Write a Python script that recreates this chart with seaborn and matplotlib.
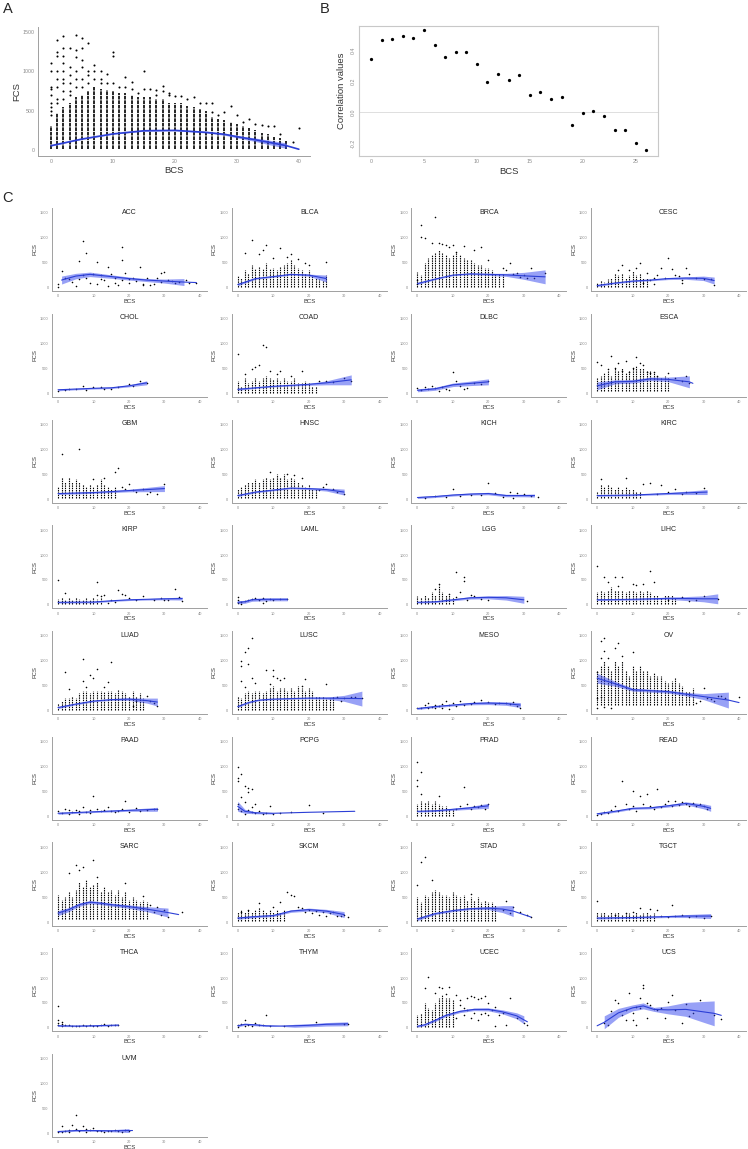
import numpy as np
import pandas as pd
import matplotlib
matplotlib.use("Agg")
import matplotlib.pyplot as plt
import seaborn as sns

nan = np.nan

# ── Panel A: all samples ──────────────────────────────────────
# top of the dense column of points at each BCS (0, 1, 2, ...)
A_cols = [300, 465, 550, 600, 680, 700, 750, 800, 780, 760, 750, 720, 720, 700,
          680, 680, 680, 650, 650, 600, 600, 600, 560, 550, 520, 500, 420, 400,
          380, 350, 330, 300, 280, 250, 220, 200, 170, 150, 120]
A_pts = [(0, 1100), (0, 1000), (0, 800), (0, 780), (0, 700), (0, 600), (0, 550), (0, 500), (0, 450),
         (1, 1400), (1, 1250), (1, 1200), (1, 1000), (1, 900), (1, 800), (1, 650), (1, 600),
         (2, 1450), (2, 1300), (2, 1200), (2, 1100), (2, 1000), (2, 900), (2, 850), (2, 750), (2, 650),
         (3, 1300), (3, 1050), (3, 950), (3, 850), (3, 750), (3, 700),
         (4, 1460), (4, 1270), (4, 1180), (4, 1000), (4, 900), (4, 800),
         (5, 1430), (5, 1300), (5, 1150), (5, 1050), (5, 900), (5, 800),
         (6, 1360), (6, 1000), (6, 950), (6, 850), (7, 1080), (7, 1000), (7, 900),
         (8, 1000), (8, 900), (8, 850), (9, 970), (9, 850), (10, 1250), (10, 1200), (10, 850),
         (11, 800), (12, 930), (12, 800), (13, 870), (13, 780), (14, 720), (15, 1000), (15, 780),
         (16, 770), (17, 760), (17, 700), (18, 820), (18, 750), (19, 720), (19, 700), (20, 690),
         (21, 690), (22, 650), (23, 680), (24, 600), (25, 600), (26, 600), (26, 480), (27, 450),
         (28, 480), (29, 560), (30, 440), (31, 350), (32, 400), (33, 330), (34, 320), (35, 300),
         (36, 300), (37, 200), (39, 100), (40, 280)]
A_fit = [(0, 55, 5), (5, 140, 5), (10, 205, 5), (15, 245, 6), (20, 250, 6), (25, 225, 8),
         (28, 200, 12), (30, 170, 15), (33, 130, 22), (35, 100, 28), (38, 55, 35), (40, 10, nan)]

# ── Panel B: correlation per BCS ──────────────────────────────
B_bcs = [0, 1, 2, 3, 4, 5, 6, 7, 8, 9, 10, 11, 12, 13, 14, 15, 16, 17, 18, 19, 20, 21, 22, 23, 24, 25, 26]
B_corr = [0.346, 0.466, 0.475, 0.497, 0.482, 0.535, 0.437, 0.359, 0.392, 0.392, 0.316, 0.196,
          0.247, 0.208, 0.239, 0.112, 0.131, 0.084, 0.099, -0.080, -0.006, 0.006, -0.024,
          -0.112, -0.118, -0.200, -0.247]

# ── Panel C: per cancer type ──────────────────────────────────
# fit = (BCS, smoothed FCS, CI half width); cols = dense column tops by BCS; pts = (BCS, FCS)
ACC_fit = [(1, 150, 80), (5, 230, 55), (9, 265, 45), (15, 220, 35), (20, 180, 30), (25, 150, 30),
           (30, 130, 40), (35.5, 110, 70), (39, 100, nan)]
ACC_cols = []
ACC_pts = [(7, 930), (8, 700), (18, 820), (18, 560), (6, 530), (11, 520), (14, 420), (23, 420), (29, 300),
           (30, 320), (1, 340), (2, 200), (4, 120), (5, 30), (7, 260), (8, 200), (10, 280), (12, 250),
           (13, 150), (15, 270), (16, 100), (17, 50), (19, 290), (20, 170), (21, 200), (22, 130), (24, 80),
           (25, 200), (26, 50), (27, 80), (28, 200), (29, 120), (31, 150), (33, 100), (34, 120), (36, 160),
           (37, 100), (39, 100), (0, 80), (0, 20), (3, 180), (6, 180), (9, 100), (11, 80), (14, 30),
           (20, 100), (24, 60), (32, 130), (18, 160), (16, 200), (12, 170)]

BLCA_fit = [(0, 60, 25), (5, 180, 15), (10, 220, 15), (15, 265, 15), (20, 250, 20), (25, 180, 70)]
BLCA_cols = [230, 200, 350, 300, 450, 380, 420, 380, 500, 380, 400, 350, 420, 450, 500, 550, 450,
             400, 350, 300, 350, 250, 200, 180, 150, 250]
BLCA_pts = [(4, 950), (8, 860), (2, 700), (6, 680), (12, 800), (10, 600), (15, 680), (19, 500),
            (25, 520), (20, 450), (14, 620), (7, 750), (17, 580)]

BRCA_fit = [(0, 80, 20), (5, 170, 12), (10, 250, 12), (15, 275, 15), (20, 265, 20), (25, 255, 30),
            (30, 235, 70), (36, 215, 140)]
BRCA_cols = [320, 250, 500, 600, 650, 700, 750, 700, 650, 600, 650, 700, 650, 600, 550, 550, 500,
             450, 450, 400, 400, 350, 300, 300, 280]
BRCA_pts = [(5, 1420), (1, 1250), (1, 1020), (2, 1000), (4, 900), (6, 900), (7, 870), (8, 850),
            (9, 820), (10, 860), (13, 830), (18, 820), (16, 750), (11, 720), (20, 550), (24, 400),
            (26, 500), (28, 300), (30, 250), (32, 400), (33, 200), (36, 300), (29, 220), (31, 200),
            (0, 150), (0, 80), (25, 350), (27, 280)]

CESC_fit = [(0, 40, 20), (5, 90, 15), (10, 130, 15), (15, 150, 15), (20, 180, 20), (25, 190, 25),
            (30, 185, 45), (33, 140, 70)]
CESC_cols = [100, 150, 120, 180, 200, 300, 250, 300, 200, 250, 330, 250, 300, 200, 200]
CESC_pts = [(7, 460), (12, 500), (11, 400), (6, 350), (20, 600), (18, 400), (21, 380), (25, 400),
            (26, 280), (22, 250), (17, 250), (16, 200), (19, 200), (23, 230), (24, 150), (15, 150),
            (28, 200), (30, 180), (32, 180), (33, 60), (24, 100), (13, 100), (16, 80), (14, 300), (9, 350)]

CHOL_fit = [(0, 70, 20), (5, 85, 15), (10, 100, 15), (15, 110, 15), (20, 150, 20), (25, 210, 40)]
CHOL_cols = []
CHOL_pts = [(3, 80), (7, 150), (10, 120), (12, 130), (15, 80), (20, 180), (23, 250), (25, 200),
            (0, 50), (5, 90), (8, 60), (17, 120), (13, 90), (2, 60), (21, 140)]

COAD_fit = [(0, 80, 20), (5, 110, 12), (10, 140, 12), (15, 160, 15), (20, 180, 20), (25, 210, 40),
            (32, 270, 100)]
COAD_cols = [250, 150, 300, 200, 250, 300, 250, 300, 350, 300, 280, 300, 250, 300, 250, 250, 300,
             200, 200, 250, 200, 150, 150]
COAD_pts = [(0, 790), (7, 970), (8, 930), (5, 520), (4, 480), (6, 560), (9, 450), (12, 450), (18, 450),
            (11, 380), (15, 350), (23, 250), (25, 250), (27, 220), (30, 300), (32, 250), (2, 380)]

DLBC_fit = [(0, 60, 30), (5, 90, 30), (10, 170, 35), (15, 200, 45), (20, 230, 60)]
DLBC_cols = []
DLBC_pts = [(0, 100), (1, 60), (2, 120), (3, 80), (4, 150), (5, 100), (6, 50), (7, 130), (8, 90),
            (10, 420), (11, 250), (12, 150), (14, 110), (16, 200), (18, 180), (20, 240), (9, 60), (13, 80)]

ESCA_fit = [(0, 150, 80), (5, 230, 40), (10, 240, 35), (15, 290, 35), (20, 280, 45), (26, 230, 120),
            (27, 200, nan)]
ESCA_cols = [300, 350, 400, 450, 350, 500, 450, 500, 400, 450, 500, 550, 500, 500, 450, 450, 400,
             350, 300, 350, 300]
ESCA_pts = [(0, 620), (1, 560), (4, 740), (6, 610), (8, 650), (11, 720), (12, 600), (13, 560),
            (10, 500), (5, 500), (3, 480), (7, 450), (9, 420), (14, 420), (15, 400), (16, 420),
            (17, 350), (20, 400), (22, 300), (25, 350), (26, 200), (24, 250)]

GBM_fit = [(0, 110, 20), (10, 130, 15), (20, 170, 25), (30, 210, 60)]
GBM_cols = [250, 450, 350, 450, 350, 400, 350, 300, 250, 300, 250, 300, 400, 300, 250, 200, 250]
GBM_pts = [(1, 900), (6, 1000), (17, 620), (16, 550), (13, 420), (10, 400), (20, 300), (24, 200),
           (26, 150), (30, 300), (22, 150), (18, 250), (19, 200), (21, 180), (25, 100), (28, 100)]

HNSC_fit = [(0, 70, 20), (5, 140, 15), (10, 180, 15), (15, 220, 15), (20, 210, 20), (25, 190, 30),
            (30, 140, 60)]
HNSC_cols = [200, 250, 300, 350, 350, 400, 350, 400, 450, 400, 450, 500, 450, 500, 400, 450, 400,
             350, 300, 250, 300, 200, 200]
HNSC_pts = [(9, 540), (14, 500), (16, 480), (18, 420), (25, 300), (27, 200), (28, 150), (30, 100),
            (24, 250), (23, 180)]

KICH_fit = [(0, 30, 20), (5, 50, 20), (10, 80, 20), (15, 100, 20), (20, 110, 25), (25, 70, 25),
            (30, 70, 25), (33, 70, 30)]
KICH_cols = []
KICH_pts = [(10, 200), (20, 320), (26, 150), (28, 120), (5, 60), (15, 90), (22, 130), (30, 100),
            (32, 60), (18, 90), (12, 70), (24, 50), (34, 40), (8, 40), (2, 20), (27, 30)]

KIRC_fit = [(0, 70, 15), (10, 80, 15), (20, 110, 20), (31, 140, 50)]
KIRC_cols = [150, 300, 250, 300, 250, 200, 250, 200, 250, 200, 200, 150, 150]
KIRC_pts = [(1, 400), (8, 420), (13, 300), (15, 320), (18, 290), (22, 200), (25, 150), (28, 120),
            (30, 220), (20, 150), (17, 100), (24, 110)]

KIRP_fit = [(0, 50, 15), (10, 55, 15), (15, 80, 15), (20, 100, 15), (25, 110, 15), (30, 120, 20),
            (35, 125, 30)]
KIRP_cols = [120, 150, 100, 130, 100, 150, 120, 100, 130, 100, 150, 120, 130]
KIRP_pts = [(0, 500), (11, 450), (2, 230), (11, 200), (12, 180), (13, 200), (17, 300), (18, 220),
            (19, 200), (33, 320), (34, 160), (24, 170), (20, 130), (22, 100), (27, 100), (29, 130),
            (30, 100), (31, 100), (35, 80), (15, 100), (16, 60), (14, 30)]

LAML_fit = [(0, 50, 30), (2, 60, 30), (4, 100, 30), (8, 110, 30), (14, 110, 30)]
LAML_cols = []
LAML_pts = [(0, 160), (0, 100), (1, 60), (2, 80), (3, 100), (4, 120), (5, 130), (6, 100), (7, 140),
            (8, 80), (9, 120), (10, 100), (12, 110), (14, 120), (0, 30), (1, 20), (7, 30)]

LGG_fit = [(0, 50, 15), (5, 60, 15), (10, 100, 20), (15, 140, 25), (20, 150, 30), (25, 140, 45),
           (30, 100, 70)]
LGG_cols = [180, 150, 200, 150, 250, 200, 400, 250, 200, 200, 150]
LGG_pts = [(11, 650), (13, 560), (13, 480), (6, 420), (5, 320), (9, 220), (12, 250), (15, 200),
           (16, 180), (18, 120), (31, 80), (14, 100), (20, 100), (11, 150)]

LIHC_fit = [(0, 100, 15), (10, 110, 15), (20, 130, 20), (30, 120, 60), (34, 120, 100)]
LIHC_cols = [250, 300, 250, 300, 350, 300, 300, 300, 250, 300, 300, 250, 300, 250, 300, 250, 200,
             200, 150, 200, 200, 200, 150]
LIHC_pts = [(0, 780), (2, 560), (5, 550), (7, 550), (10, 420), (11, 400), (13, 420), (15, 680),
            (16, 450), (6, 380), (3, 450), (24, 150), (28, 100), (30, 180), (34, 120), (26, 80), (20, 100)]

LUAD_fit = [(0, 60, 20), (5, 130, 15), (10, 190, 15), (15, 220, 15), (20, 230, 25), (25, 200, 50),
            (28, 170, 80)]
LUAD_cols = [150, 200, 250, 250, 300, 250, 350, 400, 400, 350, 400, 400, 400, 380, 400, 400, 350,
             420, 400, 350, 300, 400, 300, 350, 250]
LUAD_pts = [(7, 1030), (2, 770), (11, 830), (15, 980), (9, 720), (10, 660), (7, 600), (14, 570),
            (3, 440), (8, 480), (13, 480), (25, 300), (26, 200), (27, 150), (28, 90), (21, 100), (22, 200)]

LUSC_fit = [(0, 80, 20), (3, 160, 15), (6, 210, 12), (10, 230, 12), (15, 240, 12), (20, 250, 15),
            (25, 250, 20), (30, 245, 60), (35, 240, 150)]
LUSC_cols = [300, 250, 350, 400, 350, 400, 400, 350, 400, 450, 500, 400, 450, 450, 400, 450, 400,
             500, 450, 400, 450, 400, 300, 300, 300, 250, 250, 300]
LUSC_pts = [(4, 1450), (3, 1260), (2, 1170), (1, 1000), (1, 900), (3, 930), (4, 650), (1, 600),
            (2, 480), (8, 810), (10, 820), (10, 700), (11, 650), (12, 620), (13, 660), (19, 630),
            (9, 540), (25, 530), (18, 500), (5, 560), (28, 280), (30, 250), (32, 270), (33, 280),
            (35, 250), (29, 200)]

MESO_fit = [(0, 40, 20), (5, 80, 20), (10, 110, 20), (15, 140, 25), (20, 150, 30), (25, 140, 35),
            (29, 110, 50)]
MESO_cols = []
MESO_pts = [(0, 50), (1, 60), (2, 120), (3, 150), (4, 80), (5, 120), (6, 100), (7, 130), (8, 200),
            (9, 110), (10, 150), (11, 100), (12, 200), (13, 120), (16, 180), (18, 210), (20, 170),
            (23, 150), (26, 130), (28, 100), (29, 60), (3, 50), (5, 60), (7, 60), (9, 40), (15, 130),
            (25, 150), (27, 180), (22, 140)]

OV_fit = [(0, 650, 100), (5, 540, 50), (10, 420, 30), (15, 400, 30), (20, 380, 30), (25, 330, 35),
          (30, 280, 60), (37, 210, 160), (40, 160, nan)]
OV_cols = [800, 900, 1000, 900, 800, 1000, 900, 1000, 800, 700, 900, 800, 900, 800, 800, 700, 750,
           700, 700, 600, 550, 600, 650, 550, 500, 400, 400, 450]
OV_pts = [(1, 1400), (2, 1450), (2, 1200), (6, 1350), (5, 1250), (10, 1180), (3, 1050), (7, 1100),
          (1, 1050), (0, 780), (0, 250), (0, 50), (1, 280), (4, 60), (2, 80), (30, 450), (31, 250),
          (32, 230), (34, 300), (35, 300), (40, 280), (29, 200), (28, 150), (33, 200), (36, 250)]

PAAD_fit = [(0, 60, 20), (10, 90, 15), (20, 120, 20), (28, 140, 40)]
PAAD_cols = []
PAAD_pts = [(0, 100), (2, 150), (3, 120), (4, 80), (5, 130), (6, 100), (7, 180), (8, 90), (9, 120),
            (10, 400), (11, 150), (12, 100), (13, 120), (14, 180), (15, 110), (17, 100), (19, 300),
            (18, 150), (20, 90), (22, 160), (25, 120), (27, 150), (28, 140), (1, 60), (3, 40),
            (6, 50), (9, 60), (16, 80), (23, 100)]

PCPG_fit = [(0, 200, 100), (2, 100, 40), (5, 70, 20), (10, 60, 15), (20, 80, nan), (33, 100, nan)]
PCPG_cols = []
PCPG_pts = [(0, 1000), (1, 860), (0, 780), (0, 700), (2, 600), (3, 560), (4, 550), (3, 480), (1, 380),
            (2, 280), (0, 250), (0, 150), (1, 100), (2, 50), (3, 120), (4, 80), (5, 60), (6, 100),
            (7, 50), (8, 70), (10, 40), (12, 60), (15, 80), (20, 220), (24, 60), (9, 200), (5, 250), (4, 180)]

PRAD_fit = [(0, 100, 15), (5, 110, 15), (10, 140, 20), (15, 170, 30), (20, 210, 50)]
PRAD_cols = [250, 300, 280, 300, 250, 300, 250, 200, 200, 150, 150]
PRAD_pts = [(0, 1100), (1, 900), (0, 730), (0, 600), (1, 450), (6, 400), (13, 580), (14, 250),
            (16, 200), (18, 230), (20, 250), (11, 150), (12, 200), (17, 180), (19, 140), (15, 150)]

READ_fit = [(0, 50, 20), (5, 100, 20), (10, 160, 20), (15, 170, 20), (20, 210, 25), (25, 260, 30),
            (30, 200, 50), (32, 160, 60)]
READ_cols = []
READ_pts = [(7, 700), (10, 500), (12, 400), (14, 450), (17, 550), (22, 300), (24, 280), (25, 250),
            (27, 270), (29, 250), (30, 200), (31, 150), (20, 300), (19, 250), (5, 200), (6, 100),
            (8, 250), (9, 150), (10, 200), (11, 100), (13, 250), (15, 200), (16, 150), (18, 180),
            (2, 80), (3, 60), (0, 20), (1, 40), (4, 120), (21, 200), (23, 230), (26, 200), (28, 200)]

SARC_fit = [(0, 180, 50), (3, 250, 40), (6, 350, 35), (9, 400, 30), (12, 380, 30), (15, 350, 30),
            (20, 310, 35), (25, 260, 50), (31, 190, 90), (34, 150, nan)]
SARC_cols = [550, 450, 500, 600, 500, 650, 800, 700, 850, 700, 750, 800, 600, 700, 600, 650, 550,
             650, 500, 600, 450, 500, 450, 400, 450, 400]
SARC_pts = [(5, 1150), (6, 1050), (7, 1100), (10, 1250), (3, 980), (19, 780), (11, 900), (24, 530),
            (26, 350), (28, 300), (30, 250), (35, 200), (27, 200), (29, 150), (31, 100)]

SKCM_fit = [(0, 80, 25), (5, 110, 20), (10, 130, 20), (15, 220, 25), (20, 250, 30), (25, 220, 35),
            (30, 150, 60)]
SKCM_cols = [200, 250, 200, 250, 200, 250, 300, 250, 200, 250, 200, 250, 200, 250]
SKCM_pts = [(14, 600), (15, 550), (16, 520), (12, 400), (6, 380), (10, 300), (17, 300), (18, 280),
            (20, 250), (22, 230), (24, 200), (26, 180), (28, 130), (30, 150), (31, 100), (1, 200),
            (3, 250), (19, 200), (21, 180), (23, 150), (25, 120), (27, 200), (29, 120)]

STAD_fit = [(0, 60, 30), (5, 170, 20), (10, 230, 20), (15, 270, 20), (20, 280, 30), (24, 260, 70),
            (27, 220, 110), (32, 100, nan)]
STAD_cols = [500, 400, 550, 500, 600, 650, 600, 550, 550, 500, 600, 550, 500, 550, 450, 500, 450,
             500, 400, 450, 400, 400, 350]
STAD_pts = [(1, 1210), (2, 1300), (4, 850), (0, 740), (15, 570), (25, 420), (27, 300), (29, 200),
            (31, 150), (32, 100), (24, 250), (26, 180)]

TGCT_fit = [(0, 80, 20), (10, 90, 15), (20, 110, 20), (25, 120, 30), (32, 120, 50)]
TGCT_cols = [200, 180, 200, 150, 200, 180, 200, 150, 200, 180, 150, 200, 150, 180, 200, 150, 180]
TGCT_pts = [(0, 420), (12, 280), (15, 270), (17, 250), (21, 350), (10, 200), (24, 150), (26, 100),
            (28, 120), (30, 80), (32, 120), (20, 100), (18, 120), (22, 130), (5, 150), (8, 180)]

THCA_fit = [(0, 40, 15), (5, 35, 12), (10, 40, 12), (17, 55, 15)]
THCA_cols = []
THCA_pts = [(0, 440), (0, 160), (1, 120), (1, 80), (2, 60), (3, 50), (5, 40), (7, 60), (9, 50),
            (11, 40), (13, 70), (15, 60), (17, 50), (4, 30), (6, 30), (8, 40), (10, 30), (12, 50),
            (14, 40), (16, 60), (0, 100), (0, 60), (1, 40)]

THYM_fit = [(0, 40, 20), (2, 70, 20), (5, 60, 20), (8, 40, 15), (12, 35, 5), (16, 40, 30),
            (20, 50, 30), (25, 70, 35), (31, 80, 40)]
THYM_cols = []
THYM_pts = [(0, 50), (1, 80), (2, 150), (3, 60), (4, 40), (5, 100), (6, 50), (8, 250), (9, 40),
            (13, 30), (22, 120), (30, 80), (31, 70), (0, 20), (2, 30), (7, 60)]

UCEC_fit = [(0, 30, 20), (2, 60, 20), (5, 150, 25), (8, 250, 25), (12, 330, 25), (16, 370, 25),
            (20, 370, 30), (24, 320, 40), (28, 240, 60), (30, 160, 80), (31, 120, nan)]
UCEC_cols = [250, 300, 500, 400, 350, 500, 600, 650, 600, 600, 550]
UCEC_pts = [(3, 1020), (2, 810), (6, 820), (7, 800), (9, 820), (5, 700), (8, 680), (11, 650),
            (12, 560), (14, 600), (15, 640), (16, 620), (17, 580), (18, 600), (19, 640), (20, 500),
            (12, 450), (13, 400), (14, 350), (16, 300), (18, 280), (20, 250), (22, 420), (24, 300),
            (26, 600), (28, 200), (30, 100), (31, 60), (22, 40), (25, 60), (17, 150), (11, 200),
            (13, 250), (15, 200), (19, 300), (21, 350), (23, 250)]

UCS_fit = [(0, 40, nan), (2, 110, 130), (6, 300, 90), (10, 400, 60), (13, 440, 60), (16, 370, 40),
           (20, 360, 80), (25, 370, 140), (30, 320, 210), (33, 290, 250), (35, 250, nan)]
UCS_cols = []
UCS_pts = [(2, 100), (3, 60), (4, 340), (5, 560), (6, 500), (7, 250), (8, 150), (9, 700), (10, 300),
           (11, 50), (12, 600), (13, 870), (13, 800), (14, 500), (15, 450), (16, 380), (17, 350),
           (18, 400), (19, 200), (20, 520), (21, 650), (22, 350), (24, 100), (25, 470), (26, 230),
           (27, 300), (29, 560), (33, 250), (35, 180), (10, 150), (12, 400), (14, 200), (8, 350), (11, 420)]

UVM_fit = [(0, 40, 15), (5, 60, 15), (10, 60, 15), (15, 55, 20), (20, 60, 40), (21, 60, nan)]
UVM_cols = []
UVM_pts = [(5, 380), (1, 150), (4, 180), (7, 150), (10, 120), (3, 80), (2, 60), (6, 50), (8, 40),
           (9, 70), (11, 50), (12, 60), (13, 40), (14, 60), (16, 80), (17, 50), (18, 40), (19, 70),
           (20, 60), (0, 30), (1, 40), (3, 30), (5, 100), (8, 100), (15, 50)]

# lowest FCS of the dense columns
COL_FLOOR = {"OV": 120, "SARC": 60, "ESCA": 50, "SKCM": 30, "STAD": 30}

cancers = ["ACC", "BLCA", "BRCA", "CESC", "CHOL", "COAD", "DLBC", "ESCA", "GBM", "HNSC", "KICH",
           "KIRC", "KIRP", "LAML", "LGG", "LIHC", "LUAD", "LUSC", "MESO", "OV", "PAAD", "PCPG",
           "PRAD", "READ", "SARC", "SKCM", "STAD", "TGCT", "THCA", "THYM", "UCEC", "UCS", "UVM"]
panel_data = {name: (globals()[name + "_fit"], globals()[name + "_cols"], globals()[name + "_pts"])
              for name in cancers}

# ── style ─────────────────────────────────────────────────────
sns.set_style("white")
plt.rcParams["font.family"] = ["Liberation Sans", "DejaVu Sans"]

LINE = "#2c3fd6"
FILL = "#3344ee"
AXIS = "#a0a0a0"
TICKLAB = "#8a8a8a"
LAB = "#333333"

W, H = 748, 1149
fig = plt.figure(figsize=(W / 100, H / 100), dpi=100)


def px_axes(left, top, width, height):
    return fig.add_axes([left / W, 1 - (top + height) / H, width / W, height / H])


def draw_scatter_fit(ax, fit, cols, pts, floor, dot, col_lw, col_dash, line_lw):
    if cols:
        xs = np.arange(len(cols))
        ax.vlines(xs, floor, cols, colors="black", linewidth=col_lw,
                  linestyles=(0, col_dash), zorder=2)
    pts_df = pd.DataFrame(pts, columns=["BCS", "FCS"])
    sns.scatterplot(data=pts_df, x="BCS", y="FCS", s=dot, color="black", linewidth=0,
                    ax=ax, legend=False, zorder=3)
    fit_df = pd.DataFrame(fit, columns=["BCS", "FCS", "ci"])
    ax.fill_between(fit_df["BCS"], fit_df["FCS"] - fit_df["ci"], fit_df["FCS"] + fit_df["ci"],
                    color=FILL, alpha=0.5, linewidth=0, zorder=4)
    sns.lineplot(data=fit_df, x="BCS", y="FCS", color=LINE, linewidth=line_lw, ax=ax,
                 estimator=None, legend=False, zorder=5)


def style_axes(ax, labsize, ticksize, box=False):
    for side in ["top", "right"]:
        ax.spines[side].set_visible(box)
    for side in ax.spines:
        ax.spines[side].set_color(AXIS if not box else "#c8c8c8")
        ax.spines[side].set_linewidth(0.7 if not box else 0.8)
    ax.tick_params(length=1.5, width=0.4, pad=1, labelsize=ticksize, colors=AXIS,
                   labelcolor=TICKLAB)
    ax.xaxis.label.set_size(labsize)
    ax.yaxis.label.set_size(labsize)
    ax.xaxis.label.set_color(LAB)
    ax.yaxis.label.set_color(LAB)


# ── A ─────────────────────────────────────────────────────────
axA = px_axes(38, 27, 272, 129)
draw_scatter_fit(axA, A_fit, A_cols, A_pts, 10, 2.2, 1.2, (2.2, 0.5), 1.2)
axA.set_xlim(-2.1, 41.8)
axA.set_ylim(-76, 1564)
axA.set_xticks([0, 10, 20, 30, 40])
axA.set_yticks([0, 500, 1000, 1500])
axA.set_xlabel("BCS", labelpad=1)
axA.set_ylabel("FCS", labelpad=0.8)
style_axes(axA, 6.8, 3.8)

# ── B ─────────────────────────────────────────────────────────
axB = px_axes(359, 26, 299, 130)
axB.axhline(0, color="#dedede", linewidth=0.7, zorder=1)
sns.scatterplot(x=B_bcs, y=B_corr, s=5.5, color="black", linewidth=0, ax=axB, zorder=3)
axB.set_xlim(-1.13, 27.1)
axB.set_ylim(-0.284, 0.56)
axB.set_xticks([0, 5, 10, 15, 20, 25])
axB.set_yticks([-0.2, 0.0, 0.2, 0.4])
axB.set_yticklabels(["-0.2", "0.0", "0.2", "0.4"], rotation=90, va="center")
axB.set_xlabel("BCS", labelpad=2)
axB.set_ylabel("Correlation values", labelpad=3)
style_axes(axB, 6.8, 3.8, box=True)

# ── C ─────────────────────────────────────────────────────────
col_left = [52, 231.7, 411.4, 591.1]
for i, name in enumerate(cancers):
    r, c = divmod(i, 4)
    ax = px_axes(col_left[c], 208 + r * 105.75, 155, 83)
    fit, cols, pts = panel_data[name]
    draw_scatter_fit(ax, fit, cols, pts, COL_FLOOR.get(name, 15), 1.3, 0.8, (1.3, 0.8), 0.8)
    ax.set_xlim(-1.7, 42)
    ax.set_ylim(-70, 1600)
    ax.set_xticks([0, 10, 20, 30, 40])
    ax.set_yticks([0, 500, 1000, 1500])
    ax.set_xlabel("BCS", labelpad=0.5)
    ax.set_ylabel("FCS", labelpad=2)
    style_axes(ax, 4.3, 2.8)
    ax.text(0.5, 0.95, name, transform=ax.transAxes, ha="center", va="center",
            fontsize=5, color="#222222")

fig.text(3 / W, 1 - 9 / H, "A", fontsize=10.5, va="center", ha="left")
fig.text(320 / W, 1 - 9 / H, "B", fontsize=10.5, va="center", ha="left")
fig.text(2 / W, 1 - 198 / H, "C", fontsize=10.5, va="center", ha="left")

fig.savefig("out.png", dpi=100)
